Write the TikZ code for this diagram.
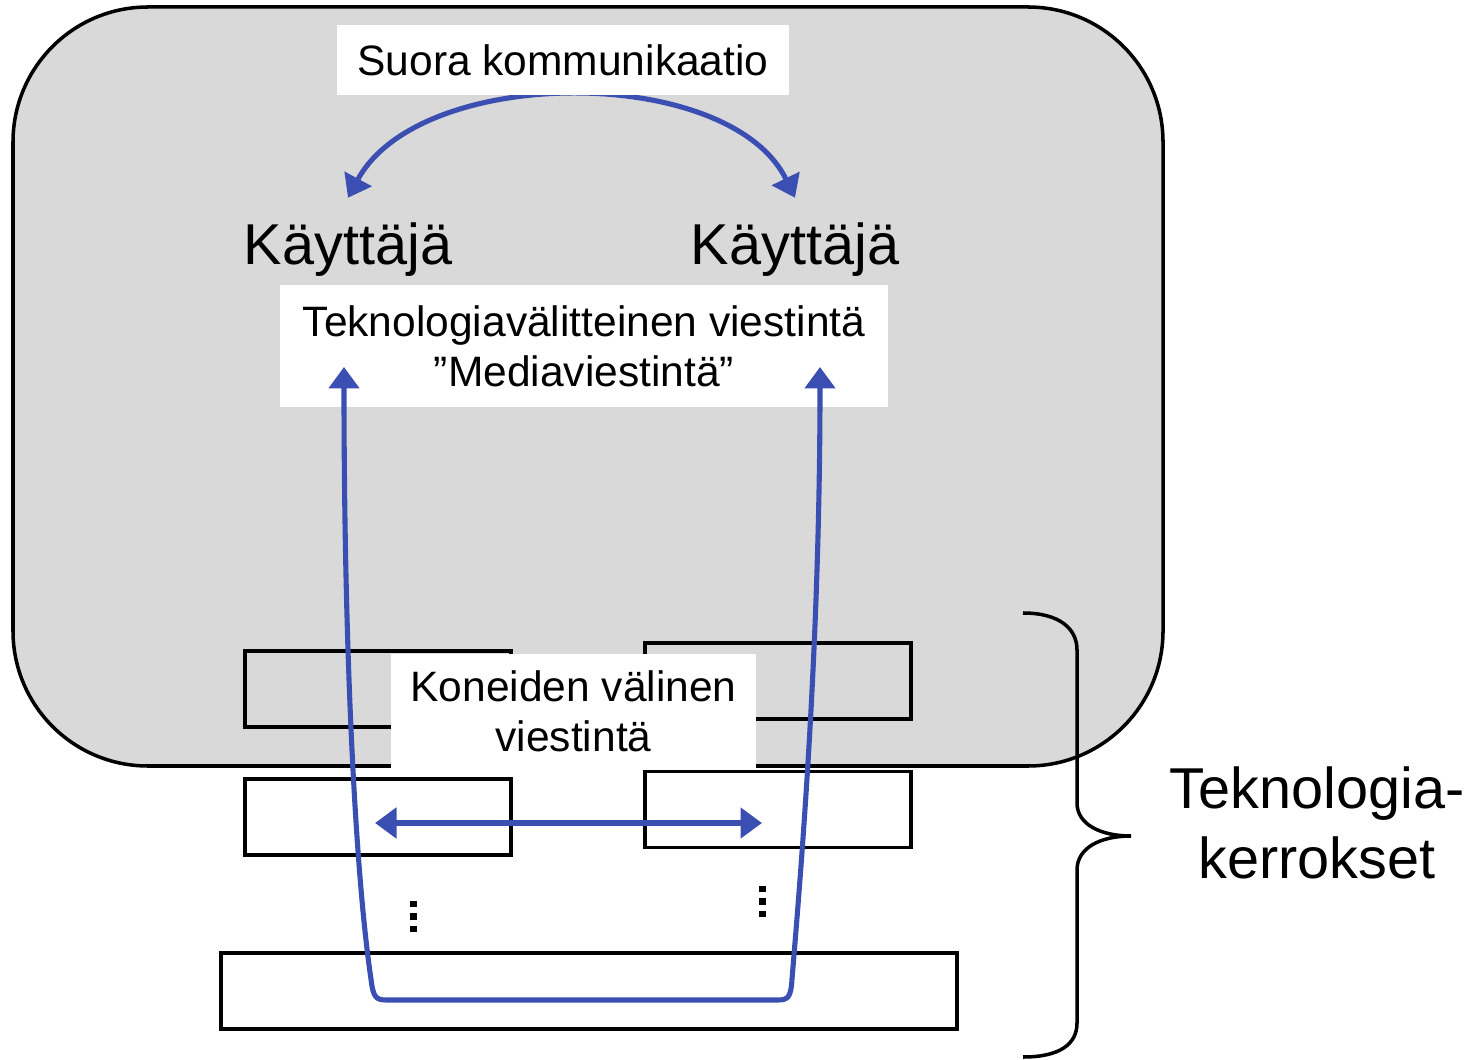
\documentclass[tikz,border=0pt]{standalone}
\usepackage{fontspec}
\setmainfont{Liberation Sans}
\usetikzlibrary{arrows.meta}
\definecolor{linkblue}{RGB}{59,79,178}
\definecolor{shade}{RGB}{217,217,217}
\tikzset{
  txt/.style={fill=white, inner sep=0pt, align=center, font=\fontsize{24.2}{28.5}\selectfont},
  big/.style={inner sep=0pt, align=center, font=\fontsize{32.8}{39.8}\selectfont},
  layer/.style={draw, line width=2pt, minimum width=5.32cm, minimum height=1.52cm, inner sep=0pt},
  link/.style={draw=linkblue, line width=2.9pt, {Triangle[length=4.3mm,width=6mm]}-{Triangle[length=4.3mm,width=6mm]}}
}
\begin{document}
\begin{tikzpicture}[x=0.02cm,y=0.02cm]
        \useasboundingbox (0,0) rectangle (1473,1059);

        % draw the shaded area
        \filldraw[fill=shade, draw=black, line width=2pt, rounded corners=2.7cm] (13,293) rectangle (1163,1052);

        % the layers
        \node[layer] (l1) at (378,370) {};
        \node[layer] (r1) at (778,378) {};
        \node[layer] (l2) at (378,242) {};
        \node[layer] (r2) at (778,249.5) {};
        \node[layer, minimum width=14.72cm] (base) at (589,68) {};

        % the users and the direct arrow
        \node[big] (user1) at (348,809) {Käyttäjä};
        \node[big] (user2) at (795,809) {Käyttäjä};
        \draw[link] ([yshift=0.5cm]user1.north) .. controls (420,995) and (730,995) .. ([yshift=0.5cm]user2.north);

        % the texts
        \node[txt, minimum width=9.04cm, minimum height=1.4cm] (direct) at (563,999) {Suora kommunikaatio};
        \node[txt, minimum width=12.16cm, minimum height=2.44cm] (media) at (584,713) {Teknologiavälitteinen viestintä\\”Mediaviestintä”};
        \node[txt, minimum width=7.3cm, minimum height=2.28cm] (machine) at (573.5,348) {Koneiden välinen\\viestintä};
        \node[big] (layers) at (1317,236.5) {Teknologia-\\kerrokset};

        % the ends of the arrows through the layers
        \coordinate (ul) at (344,692);
        \coordinate (ur) at (820,692);
        \coordinate (ha) at (375,236);
        \coordinate (hb) at (762,236);

        % draw the arrows
        \draw[link] (ul) .. controls (344,400) and (356,180) .. (371,80) .. controls (373,62) and (376,59) .. (386,59) -- (778,59) .. controls (788,59) and (791,62) .. (792,80) .. controls (802,200) and (820,420) .. (ur);
        \draw[link] (ha) -- (hb);

        % the dots between the layers
        \foreach \k in {0,1,2} {
          \fill (410,127+12.5*\k) rectangle +(6.5,6.5);
          \fill (759,142+12.5*\k) rectangle +(6.5,6.5);
        }

        % the brace
        \draw[line width=2pt] (1023,446) .. controls (1060,446) and (1077,430) .. (1077,409) -- (1077,256) .. controls (1077,235) and (1100,223) .. (1131,223) .. controls (1100,223) and (1077,211) .. (1077,189) -- (1077,36) .. controls (1077,15) and (1060,2) .. (1023,2);

    \end{tikzpicture}
\end{document}
